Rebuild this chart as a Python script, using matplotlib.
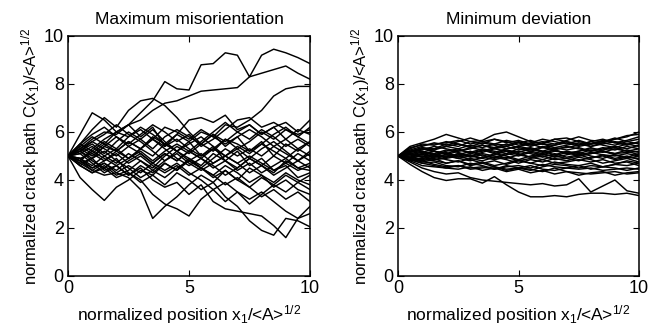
import matplotlib
matplotlib.use('Agg')
import matplotlib.pyplot as plt

plt.rcParams['font.family'] = ['Liberation Sans', 'DejaVu Sans']
plt.rcParams['mathtext.fontset'] = 'custom'
plt.rcParams['mathtext.rm'] = 'Liberation Sans'
plt.rcParams['mathtext.it'] = 'Liberation Sans:italic'

# normalized position x1/<A>^1/2 (common grid for all paths)
x_pos = [0, 0.5, 1, 1.5, 2, 2.5, 3, 3.5, 4, 4.5, 5, 5.5, 6, 6.5, 7, 7.5, 8, 8.5, 9, 9.5, 10]

# crack paths, maximum misorientation
max_mis = [
    [5.0, 5.3, 5.7, 6.0, 5.9, 6.3, 6.8, 7.3, 8.1, 7.8, 7.75, 8.8, 8.85, 9.3, 9.2, 8.3, 9.2, 9.45, 9.3, 9.1, 8.85],
    [5.0, 4.8, 5.3, 5.7, 6.0, 6.3, 6.5, 6.9, 7.2, 7.3, 7.5, 7.7, 7.75, 7.8, 7.85, 8.3, 8.45, 8.6, 8.75, 8.45, 8.2],
    [5.0, 5.2, 4.9, 5.4, 5.2, 5.6, 5.3, 5.8, 5.5, 5.9, 5.6, 6.0, 5.8, 6.3, 6.2, 6.5, 6.9, 7.5, 7.8, 7.9, 7.9],
    [5.0, 5.5, 6.1, 6.6, 6.2, 6.9, 7.3, 7.4, 7.1, 6.6, 6.0, 5.5, 5.9, 5.4, 5.8, 5.2, 5.6, 5.0, 5.5, 5.2, 5.6],
    [5.0, 5.9, 6.8, 6.5, 6.0, 6.3, 5.8, 6.2, 5.4, 5.9, 6.5, 6.6, 6.4, 6.7, 6.1, 6.3, 5.9, 6.2, 6.4, 6.0, 6.5],
    [5.0, 4.6, 4.3, 4.5, 4.1, 4.3, 3.9, 4.2, 3.8, 4.3, 4.0, 3.6, 3.9, 3.3, 2.9, 2.3, 1.9, 1.7, 2.4, 2.3, 2.05],
    [5.0, 4.7, 4.9, 4.4, 4.6, 4.2, 4.5, 4.0, 3.7, 3.9, 3.4, 3.8, 3.1, 2.8, 2.7, 2.6, 2.5, 2.1, 1.6, 2.4, 2.9],
    [5.0, 4.1, 3.6, 3.15, 3.7, 4.0, 4.4, 4.2, 4.7, 4.4, 4.9, 4.6, 5.1, 4.8, 4.5, 4.9, 4.6, 4.3, 4.8, 4.5, 4.4],
    [5.0, 4.8, 4.5, 4.7, 4.3, 4.1, 3.6, 2.4, 2.9, 3.3, 3.8, 4.2, 3.9, 4.4, 4.0, 4.5, 4.2, 3.9, 4.3, 4.0, 3.8],
    [5.0, 5.2, 4.8, 4.5, 4.9, 4.3, 4.0, 3.4, 3.0, 2.8, 2.5, 3.2, 3.6, 3.1, 3.5, 3.0, 3.4, 3.8, 3.5, 3.9, 3.6],
    [5.0, 5.4, 5.8, 5.5, 6.0, 5.8, 6.2, 5.9, 5.5, 5.2, 5.6, 5.0, 5.4, 4.8, 5.2, 4.6, 4.9, 4.4, 4.6, 4.1, 4.3],
    [5.0, 4.6, 4.3, 4.6, 4.2, 4.4, 4.8, 4.5, 5.0, 5.4, 5.1, 5.5, 5.2, 5.7, 5.3, 5.6, 6.0, 5.7, 6.1, 5.8, 6.2],
    [5.0, 5.2, 5.5, 5.1, 5.6, 6.0, 5.7, 6.1, 5.6, 5.2, 5.5, 5.8, 5.4, 5.0, 5.3, 4.9, 5.3, 5.6, 5.2, 4.8, 5.1],
    [5.0, 4.9, 4.6, 5.0, 4.7, 5.1, 4.8, 4.4, 4.8, 5.2, 4.9, 4.5, 4.2, 4.6, 4.3, 3.9, 4.2, 3.7, 4.0, 3.6, 3.4],
    [5.0, 5.3, 5.0, 5.4, 5.8, 5.5, 5.9, 6.3, 6.0, 5.6, 5.9, 5.4, 5.7, 6.1, 6.5, 6.6, 6.2, 6.4, 6.1, 5.9, 6.1],
    [5.0, 4.8, 5.2, 4.9, 4.6, 4.9, 5.3, 5.0, 5.5, 5.2, 4.8, 5.1, 4.7, 5.0, 5.4, 5.1, 5.5, 5.2, 4.9, 5.3, 5.0],
    [5.0, 5.1, 4.7, 4.3, 4.6, 4.2, 4.6, 4.3, 4.7, 4.4, 4.8, 4.5, 4.2, 3.8, 4.1, 3.7, 3.3, 3.6, 3.2, 3.5, 3.1],
    [5.0, 5.5, 5.9, 6.2, 5.8, 5.4, 5.7, 5.3, 5.8, 6.1, 5.8, 5.5, 5.9, 5.6, 6.0, 6.3, 5.9, 6.2, 5.7, 5.3, 5.6],
    [5.0, 4.7, 4.4, 4.2, 4.3, 4.6, 4.3, 4.7, 5.1, 4.8, 5.2, 4.9, 4.5, 4.8, 4.4, 4.7, 4.3, 4.6, 4.9, 4.5, 4.7],
    [5.0, 5.3, 5.6, 5.3, 5.0, 5.4, 5.1, 4.7, 5.1, 4.8, 5.2, 5.6, 6.0, 6.4, 6.0, 5.7, 6.1, 5.8, 5.4, 5.7, 5.4],
    [5.0, 4.9, 5.1, 4.8, 5.2, 4.9, 5.3, 5.7, 5.3, 4.9, 4.6, 4.9, 4.6, 4.2, 4.5, 4.9, 4.6, 5.0, 4.7, 5.1, 4.8],
    [5.0, 5.2, 5.6, 5.9, 6.3, 5.9, 5.6, 5.2, 4.8, 5.1, 4.7, 4.4, 4.7, 5.0, 4.7, 4.3, 4.6, 4.2, 4.5, 4.8, 4.5],
    [5.0, 4.9, 4.5, 4.8, 5.1, 4.7, 5.0, 4.6, 4.3, 4.6, 4.2, 4.5, 4.1, 4.4, 4.0, 3.7, 4.1, 3.8, 4.2, 3.9, 4.2],
    [5.0, 5.4, 5.1, 5.5, 5.2, 5.6, 5.3, 5.7, 6.2, 6.0, 5.7, 6.1, 5.8, 5.5, 5.8, 6.1, 5.8, 5.4, 5.7, 6.1, 5.9],
    [5.0, 4.6, 4.9, 5.2, 4.8, 4.5, 4.1, 4.4, 4.1, 4.5, 4.8, 4.5, 4.9, 5.3, 5.0, 5.3, 5.0, 5.4, 5.1, 4.8, 5.2],
    [5.0, 5.1, 5.4, 5.0, 5.3, 4.9, 5.2, 4.8, 5.2, 5.5, 5.2, 4.9, 5.3, 5.0, 4.7, 5.0, 4.7, 4.4, 4.7, 4.4, 4.6],
    [5.0, 5.5, 5.2, 5.6, 5.3, 5.8, 6.1, 5.7, 5.4, 5.7, 5.3, 5.0, 5.3, 5.7, 5.5, 5.2, 5.5, 5.9, 6.2, 5.8, 5.5],
    [5.0, 4.8, 4.4, 4.7, 4.4, 4.8, 5.1, 4.7, 4.4, 4.7, 4.3, 4.0, 3.6, 3.9, 3.5, 3.2, 3.5, 3.1, 2.7, 2.4, 2.6],
]

# crack paths, minimum deviation
min_dev = [
    [5.0, 5.4, 5.55, 5.7, 5.9, 5.75, 5.6, 5.65, 5.9, 6.0, 5.8, 5.6, 5.5, 5.7, 5.75, 5.6, 5.5, 5.55, 5.7, 5.8, 6.0],
    [5.0, 4.65, 4.35, 4.1, 3.98, 4.05, 4.05, 3.87, 4.14, 3.8, 3.5, 3.3, 3.3, 3.35, 3.3, 3.4, 3.45, 3.45, 3.4, 3.45, 3.35],
    [5.0, 4.75, 4.5, 4.35, 4.25, 4.3, 4.1, 4.0, 3.95, 3.9, 3.85, 3.8, 3.85, 3.75, 3.8, 4.05, 3.5, 3.75, 4.0, 3.55, 3.45],
    [5.0, 4.8, 4.6, 4.55, 4.5, 4.6, 4.45, 4.5, 4.55, 4.4, 4.5, 4.45, 4.35, 4.5, 4.35, 4.3, 4.25, 4.3, 4.35, 4.25, 4.3],
    [5.0, 5.2, 5.35, 5.3, 5.5, 5.4, 5.6, 5.5, 5.7, 5.6, 5.45, 5.55, 5.7, 5.6, 5.5, 5.65, 5.5, 5.6, 5.75, 5.6, 5.7],
    [5.0, 4.9, 4.8, 4.9, 4.7, 4.8, 4.65, 4.75, 4.6, 4.7, 4.85, 4.7, 4.6, 4.75, 4.65, 4.6, 4.7, 4.55, 4.65, 4.6, 4.7],
    [5.0, 5.1, 5.05, 5.2, 5.1, 5.25, 5.15, 5.3, 5.2, 5.1, 5.3, 5.2, 5.35, 5.25, 5.4, 5.3, 5.2, 5.35, 5.25, 5.4, 5.3],
    [5.0, 4.95, 5.1, 5.0, 5.15, 4.95, 5.05, 4.9, 5.1, 5.0, 4.85, 5.0, 5.1, 4.95, 5.05, 5.15, 5.0, 4.9, 5.05, 4.95, 5.1],
    [5.0, 5.3, 5.5, 5.45, 5.6, 5.5, 5.4, 5.55, 5.45, 5.3, 5.4, 5.5, 5.35, 5.45, 5.6, 5.5, 5.4, 5.55, 5.45, 5.6, 5.5],
    [5.0, 4.85, 4.7, 4.75, 4.6, 4.55, 4.7, 4.6, 4.45, 4.55, 4.6, 4.5, 4.65, 4.55, 4.5, 4.6, 4.45, 4.55, 4.5, 4.4, 4.5],
    [5.0, 5.15, 5.3, 5.2, 5.05, 5.2, 5.35, 5.25, 5.1, 5.25, 5.15, 5.3, 5.2, 5.05, 5.2, 5.1, 5.25, 5.15, 5.3, 5.2, 5.05],
    [5.0, 4.9, 5.0, 4.85, 4.95, 5.1, 4.95, 5.05, 4.9, 5.05, 5.2, 5.1, 4.95, 5.1, 4.95, 5.05, 4.9, 5.05, 4.9, 5.0, 4.85],
    [5.0, 5.25, 5.4, 5.55, 5.45, 5.6, 5.75, 5.6, 5.5, 5.65, 5.55, 5.4, 5.55, 5.7, 5.6, 5.45, 5.6, 5.7, 5.55, 5.65, 5.8],
    [5.0, 4.8, 4.9, 5.0, 4.85, 4.75, 4.9, 4.8, 4.95, 4.85, 4.7, 4.85, 4.75, 4.9, 4.8, 4.95, 4.85, 4.7, 4.8, 4.9, 4.75],
    [5.0, 5.05, 4.95, 5.1, 5.25, 5.15, 5.0, 5.15, 5.3, 5.2, 5.05, 5.2, 5.1, 5.25, 5.1, 5.2, 5.35, 5.2, 5.1, 5.25, 5.15],
    [5.0, 5.2, 5.15, 5.3, 5.4, 5.3, 5.45, 5.35, 5.5, 5.45, 5.6, 5.45, 5.5, 5.35, 5.45, 5.55, 5.4, 5.5, 5.6, 5.5, 5.4],
    [5.0, 4.95, 4.85, 4.95, 5.05, 4.9, 4.8, 4.95, 4.85, 4.95, 4.8, 4.9, 5.0, 4.85, 4.9, 4.8, 4.95, 5.0, 4.85, 4.95, 4.9],
    [5.0, 5.1, 5.2, 5.05, 5.2, 5.3, 5.1, 5.2, 5.35, 5.4, 5.25, 5.35, 5.2, 5.35, 5.25, 5.35, 5.2, 5.3, 5.4, 5.3, 5.45],
    [5.0, 4.9, 4.75, 4.85, 4.9, 5.0, 4.85, 4.7, 4.8, 4.65, 4.8, 4.7, 4.85, 4.7, 4.75, 4.85, 4.75, 4.85, 4.7, 4.75, 4.6],
    [5.0, 5.15, 5.25, 5.4, 5.3, 5.2, 5.3, 5.45, 5.35, 5.5, 5.35, 5.25, 5.4, 5.3, 5.35, 5.45, 5.6, 5.45, 5.35, 5.5, 5.55],
    [5.0, 5.05, 5.15, 5.1, 4.95, 5.05, 5.2, 5.0, 4.95, 5.1, 5.0, 5.15, 5.05, 5.2, 5.15, 5.0, 5.1, 5.2, 5.1, 5.15, 5.2],
    [5.0, 4.85, 4.9, 4.8, 4.7, 4.8, 4.6, 4.7, 4.55, 4.45, 4.5, 4.6, 4.45, 4.4, 4.5, 4.45, 4.5, 4.4, 4.45, 4.5, 4.45],
    [5.0, 5.35, 5.45, 5.5, 5.55, 5.65, 5.5, 5.6, 5.7, 5.55, 5.65, 5.5, 5.6, 5.5, 5.65, 5.8, 5.65, 5.6, 5.7, 5.85, 5.9],
    [5.0, 5.0, 5.1, 5.2, 5.1, 5.0, 5.1, 5.25, 5.15, 5.3, 5.4, 5.3, 5.15, 5.25, 5.1, 5.2, 5.3, 5.25, 5.35, 5.2, 5.3],
    [5.0, 4.9, 4.8, 4.65, 4.55, 4.6, 4.5, 4.55, 4.45, 4.6, 4.5, 4.4, 4.55, 4.65, 4.6, 4.5, 4.6, 4.55, 4.65, 4.8, 4.7],
    [5.0, 5.2, 5.3, 5.25, 5.4, 5.5, 5.35, 5.45, 5.3, 5.4, 5.55, 5.65, 5.5, 5.45, 5.55, 5.4, 5.5, 5.65, 5.55, 5.45, 5.6],
    [5.0, 4.95, 5.05, 4.95, 5.0, 4.9, 5.0, 5.1, 5.0, 4.9, 5.05, 4.95, 5.05, 5.0, 5.15, 5.05, 5.15, 5.05, 5.0, 5.1, 5.0],
    [5.0, 5.1, 4.95, 5.05, 4.95, 5.1, 5.0, 4.9, 5.05, 5.2, 5.1, 4.95, 4.85, 5.0, 4.9, 5.0, 5.1, 5.2, 5.05, 4.9, 5.0],
    [5.0, 4.85, 4.7, 4.6, 4.5, 4.45, 4.55, 4.4, 4.5, 4.35, 4.45, 4.3, 4.4, 4.25, 4.35, 4.2, 4.3, 4.35, 4.2, 4.3, 4.35],
]

titles = ['Maximum misorientation', 'Minimum deviation']
xticks = [0, 5, 10]
yticks = [0, 2, 4, 6, 8, 10]

fig = plt.figure(figsize=(6.61, 3.34), dpi=100)
ax1 = fig.add_axes([68/661, 58/334, 242/661, 240/334])
ax2 = fig.add_axes([398/661, 58/334, 241/661, 240/334])

for ax, paths, title in zip([ax1, ax2], [max_mis, min_dev], titles):
    for y in paths:
        ax.plot(x_pos, y, color='black', lw=1.05)
    ax.set_xlim(0, 10)
    ax.set_ylim(0, 10)
    ax.set_xticks(xticks)
    ax.set_yticks(yticks)
    ax.tick_params(direction='in', length=4, width=0.8, top=True, right=True,
                   labelsize=13, pad=3)
    for s in ax.spines.values():
        s.set_linewidth(1.1)
    ax.set_title(title, fontsize=12.5, pad=9)
    ax.set_xlabel(r'normalized position x$_1$/<A>$^{1/2}$', fontsize=12.5, labelpad=4)
    ax.set_ylabel(r'normalized crack path C(x$_1$)/<A>$^{1/2}$', fontsize=12, labelpad=1)

fig.savefig('out.png', dpi=100)
